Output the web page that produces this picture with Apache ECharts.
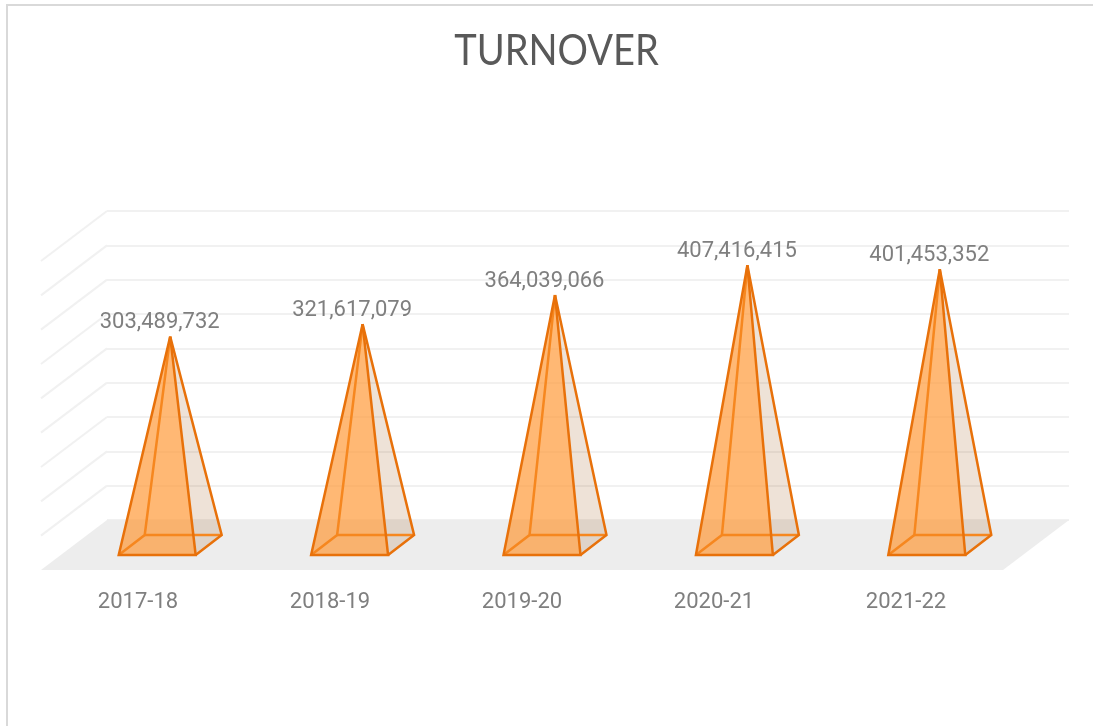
<!DOCTYPE html>
<html>
<head>
<meta charset="utf-8">
<title>TURNOVER</title>
<script src="https://cdn.jsdelivr.net/npm/echarts@6/dist/echarts.min.js"></script>
<style>
    html, body { margin: 0; padding: 0; background: #fff; }
    #main { width: 1093px; height: 726px; }
</style>
</head>
<body>
<div id="main"></div>
<script>
var years = ['2017-18', '2018-19', '2019-20', '2020-21', '2021-22'];
var turnover = [303489732, 321617079, 364039066, 407416415, 401453352];
var tickValues = [50000000, 100000000, 150000000, 200000000, 250000000, 300000000, 350000000, 400000000, 450000000];

var depthX = 66, depthY = 50;   // floor depth in pixels
var gridColor = '#f1f1f1';
var edgeDark = '#e8710a';
var edgeLight = '#f6871f';

var myChart = echarts.init(document.getElementById('main'));

function line(points, color) {
    return {
        type: 'polyline',
        shape: { points: points },
        style: { fill: null, stroke: color, lineWidth: 2.5, lineJoin: 'miter' }
    };
}

function renderFloor(params, api) {
    var left = params.coordSys.x, right = left + params.coordSys.width;
    var y = api.coord([0, api.value(1)])[1];
    return {
        type: 'polygon',
        shape: { points: [[left, y], [right, y], [right - depthX, y + depthY], [left - depthX, y + depthY]] },
        style: { fill: '#ededed' }
    };
}

function renderSideLine(params, api) {
    var left = params.coordSys.x;
    var y = api.coord([0, api.value(1)])[1];
    return {
        type: 'line',
        shape: { x1: left, y1: y, x2: left - depthX, y2: y + depthY },
        style: { stroke: gridColor, lineWidth: 2 }
    };
}

function renderPyramid(params, api) {
    var base = api.coord([api.value(0), 0]);
    var top = api.coord([api.value(0), api.value(1)]);
    var halfW = api.size([1, 0])[0] * 0.2;
    var dx = depthX / 2, dy = depthY / 2;
    var cx = base[0] - dx, cy = base[1] + dy;
    var apex = [cx, top[1] + dy];
    var fl = [cx - 13 - halfW, cy + 10], fr = [cx - 13 + halfW, cy + 10];
    var bl = [cx + 13 - halfW, cy - 10], br = [cx + 13 + halfW, cy - 10];
    return {
        type: 'group',
        children: [
            { type: 'polygon', shape: { points: [fr, br, apex] }, style: { fill: 'rgba(160,94,33,0.18)' } },
            { type: 'polygon', shape: { points: [fl, fr, apex] }, style: { fill: 'rgba(255,150,50,0.68)' } },
            line([fl, bl, apex], edgeLight),
            line([bl, br], edgeLight),
            line([fr, br, apex], edgeDark),
            line([apex, fl, fr, apex], edgeDark),
            {
                type: 'text',
                style: {
                    x: apex[0] - 10.5,
                    y: apex[1] - 14,
                    text: echarts.format.addCommas(api.value(1)),
                    fill: '#7f7f7f',
                    font: '22px Roboto',
                    align: 'center',
                    verticalAlign: 'middle'
                }
            }
        ]
    };
}

var option = {
    animation: false,
    backgroundColor: '#fff',
    graphic: [
        {
            type: 'polyline',
            shape: { points: [[7, 726], [7, 5], [1093, 5]] },
            style: { fill: null, stroke: '#d9d9d9', lineWidth: 2 }
        },
        {
            // title is a squeezed text, there is no narrow font installed
            type: 'text',
            x: 556.5,
            y: 51,
            scaleX: 0.885,
            style: {
                text: 'TURNOVER',
                fill: '#595959',
                font: '400 43px Lato',
                align: 'center',
                verticalAlign: 'middle'
            }
        }
    ],
    grid: [
        { left: 107, right: 24, top: 211, height: 309 },     // back wall
        { left: 42, right: 91, top: 261, height: 309 }       // front edge, for the labels
    ],
    xAxis: [
        { type: 'category', gridIndex: 0, data: years, axisLine: { show: false }, axisTick: { show: false }, axisLabel: { show: false } },
        {
            type: 'category', gridIndex: 1, data: years,
            axisLine: { show: false }, axisTick: { show: false },
            axisLabel: { color: '#7f7f7f', fontSize: 22, fontFamily: 'Roboto', margin: 21 }
        }
    ],
    yAxis: [
        {
            type: 'value', gridIndex: 0, min: 0, max: 450000000, interval: 50000000,
            axisLine: { show: false }, axisTick: { show: false }, axisLabel: { show: false },
            splitLine: { lineStyle: { color: gridColor, width: 2 } }
        },
        { type: 'value', gridIndex: 1, min: 0, max: 450000000, show: false, splitLine: { show: false } }
    ],
    series: [
        { type: 'custom', name: 'floor', renderItem: renderFloor, data: [[0, 0]], z: 1, silent: true },
        {
            type: 'custom', name: 'side lines', renderItem: renderSideLine, z: 1, silent: true,
            data: tickValues.map(function (v) { return [0, v]; })
        },
        {
            type: 'custom', name: 'Turnover', renderItem: renderPyramid, z: 2,
            data: turnover.map(function (v, i) { return [i, v]; })
        }
    ]
};
myChart.setOption(option);
</script>
</body>
</html>
